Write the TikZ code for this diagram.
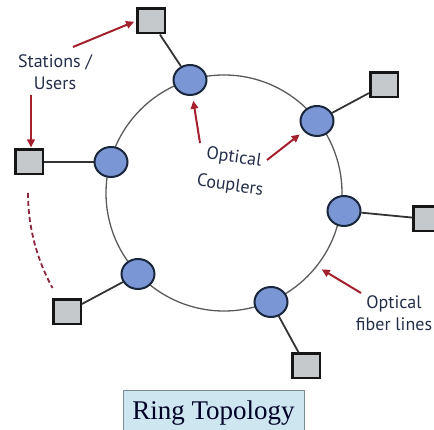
\documentclass[tikz,border=0pt]{standalone}
\usepackage{fontspec}
\setmainfont{PT Sans}
\newfontfamily\titlefont{Liberation Serif}
\usetikzlibrary{shapes.geometric,arrows.meta}

\definecolor{couplerfill}{RGB}{122,150,212}
\definecolor{couplerline}{RGB}{25,38,60}
\definecolor{stationfill}{RGB}{197,201,204}
\definecolor{stationline}{RGB}{22,22,22}
\definecolor{labeltext}{RGB}{36,46,74}
\definecolor{pointer}{RGB}{165,32,45}
\definecolor{dashcol}{RGB}{140,40,62}
\definecolor{fibre}{RGB}{90,90,90}
\definecolor{titlefill}{RGB}{205,230,240}
\definecolor{titleline}{RGB}{120,140,150}

\tikzset{
  coupler/.style={ellipse, draw=couplerline, fill=couplerfill, line width=2pt,
    minimum width=33pt, minimum height=30pt, inner sep=0pt},
  station/.style={rectangle, draw=stationline, fill=stationfill, line width=2.5pt,
    minimum width=27.5pt, minimum height=24.5pt, inner sep=0pt},
  link/.style={draw=black!80, line width=1.8pt},
  ringline/.style={draw=fibre, line width=1.3pt},
  pointarrow/.style={draw=pointer, line width=2pt,
    -{Triangle[length=8pt,width=7.5pt]}},
  note/.style={text=labeltext, align=center, inner sep=0pt,
    font=\fontsize{18}{22}\selectfont},
}

\begin{document}
\begin{tikzpicture}[x=1pt,y=1pt]
\useasboundingbox (0,0) rectangle (434,430);
\clip (0,0) rectangle (434,430);

% the fibre ring
\coordinate (ringc) at (224,237);
\draw[ringline] (ringc) circle[radius=118];

% optical couplers on the ring
\node[coupler] (c1) at (190,350) {};
\node[coupler] (c2) at (317,309) {};
\node[coupler] (c3) at (344,219) {};
\node[coupler] (c4) at (271,128) {};
\node[coupler] (c5) at (138,156) {};
\node[coupler] (c6) at (111,268) {};

% stations / users
\node[station] (s1) at (151,409) {};
\node[station] (s2) at (384,345) {};
\node[station] (s3) at (427,211) {};
\node[station] (s4) at (306,64) {};
\node[station] (s5) at (67,118) {};
\node[station] (s6) at (29,268) {};

% drop lines from couplers to stations
\draw[link] (c1) -- (s1);
\draw[link] (c2) -- (s2);
\draw[link] (c3) -- (s3);
\draw[link] (c4) -- (s4);
\draw[link] (c5) -- (s5);
\draw[link] (c6) -- (s6);

% labels
\node[note] (users) at (55,357.5) {Stations /\\Users};
\node[note, rotate=-8] (coupA) at (234,272) {Optical};
\node[note, rotate=-8] (coupB) at (230,244) {Couplers};
\node[note] (fib) at (394,117) {Optical\\fiber lines};

% pointer arrows
\coordinate (a1) at (73,383);
\coordinate (a2) at (31,335);
\coordinate (a3) at (200,287);
\coordinate (a4) at (267,270);
\coordinate (a5) at (361,137);
\coordinate (onring) at ([shift={(ringc)}]-38:124);
\draw[pointarrow, shorten >=2pt] (a1) -- (s1.west);
\draw[pointarrow, shorten >=1pt] (a2) -- (a2 |- s6.north);
\draw[pointarrow, shorten >=5pt] (a3) -- (c1);
\draw[pointarrow, shorten >=5pt] (a4) -- (c2);
\draw[pointarrow] (a5) -- (onring);

% more stations further round the ring
\draw[draw=dashcol, line width=1.8pt, dash pattern=on 5pt off 3pt]
  ([shift={(ringc)}]180:196) arc[start angle=180, end angle=209, radius=196];

% caption
\draw[draw=titleline, fill=titlefill, line width=1pt] (123,-5) rectangle (304,39);
\node[anchor=base, text=black!85!blue, font=\titlefont\fontsize{27}{30}\selectfont]
  (title) at (213.5,10) {Ring Topology};
\end{tikzpicture}
\end{document}
